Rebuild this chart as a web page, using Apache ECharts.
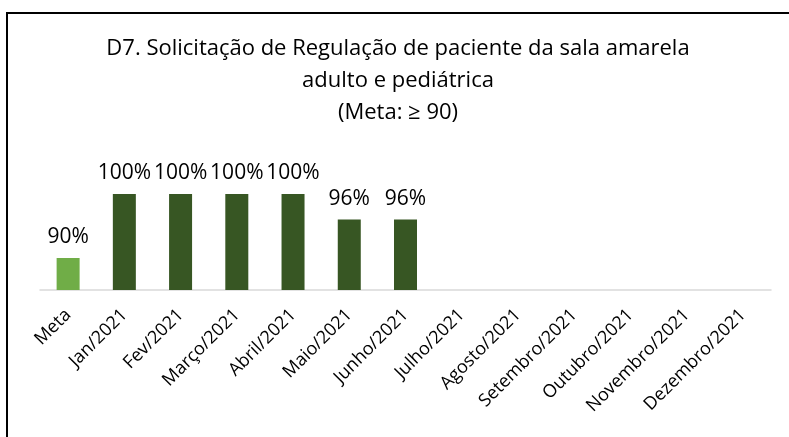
<!DOCTYPE html>
<html>
<head>
<meta charset="utf-8">
<script src="https://cdn.jsdelivr.net/npm/echarts@6/dist/echarts.min.js"></script>
<style>
  html, body { margin: 0; padding: 0; background: #fff; }
  #chart { width: 789px; height: 437px; }
</style>
</head>
<body>
<div id="chart"></div>
<script>
// categorias e valores
var categories = ['Meta', 'Jan/2021', 'Fev/2021', 'Março/2021', 'Abril/2021', 'Maio/2021', 'Junho/2021',
    'Julho/2021', 'Agosto/2021', 'Setembro/2021', 'Outubro/2021', 'Novembro/2021', 'Dezembro/2021'];
var values = [90, 100, 100, 100, 100, 96, 96, null, null, null, null, null, null];
var metaColor = '#70AD47';
var monthColor = '#375623';
var font = 'Open Sans';

var option = {
    animation: false,
    textStyle: { fontFamily: font },
    title: {
        text: 'D7. Solicitação de Regulação de paciente da sala amarela\nadulto e pediátrica\n(Meta: ≥ 90)',
        left: 393,
        top: 28,
        textAlign: 'center',
        textStyle: {
            fontFamily: font,
            fontWeight: 'normal',
            fontSize: 22,
            lineHeight: 32,
            color: '#000'
        }
    },
    graphic: [{
        type: 'rect',
        shape: { x: 7, y: 13, width: 800, height: 440 },
        style: { fill: null, stroke: '#000', lineWidth: 2 },
        silent: true
    }],
    grid: { left: 40, right: 18, top: 194, bottom: 147 },
    xAxis: {
        type: 'category',
        data: categories,
        axisLine: { lineStyle: { color: '#D9D9D9', width: 1.5 } },
        axisTick: { show: false },
        axisLabel: {
            interval: 0,
            rotate: 45,
            margin: 22,
            fontSize: 18,
            color: '#000',
            fontFamily: font
        }
    },
    yAxis: {
        type: 'value',
        min: 85,
        max: 100,
        show: false
    },
    series: [{
        type: 'bar',
        barWidth: 23,
        data: values.map(function (v, i) {
            return { value: v, itemStyle: { color: i === 0 ? metaColor : monthColor } };
        }),
        label: {
            show: true,
            position: 'top',
            distance: 10,
            formatter: '{c}%',
            fontSize: 21,
            color: '#000',
            fontFamily: font
        }
    }]
};

var chart = echarts.init(document.getElementById('chart'));
chart.setOption(option);
</script>
</body>
</html>
